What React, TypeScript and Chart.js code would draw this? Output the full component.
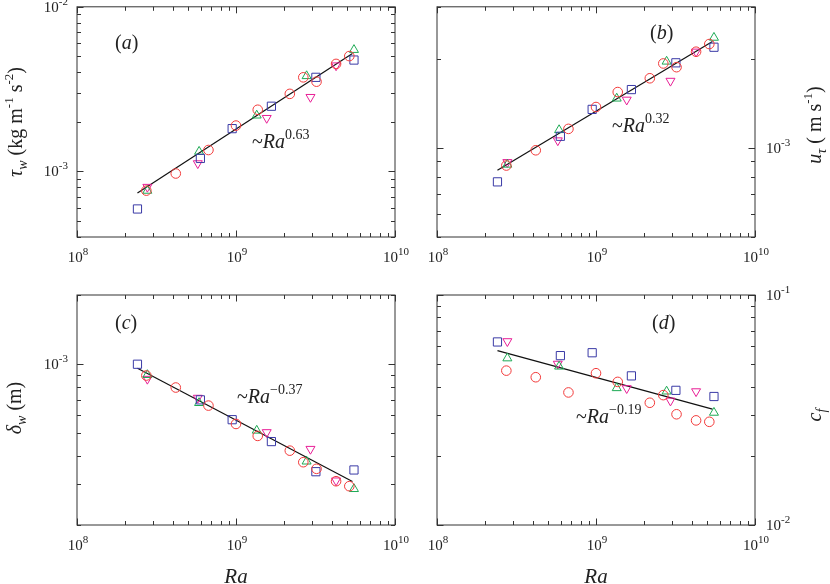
import { useEffect, useRef } from 'react';
import { Chart, registerables } from 'chart.js';

Chart.register(...registerables);

// Ra of each run family (shared by all four panels)
const raCircle = [2.73e8, 4.18e8, 6.71e8, 1.0e9, 1.37e9, 2.18e9, 2.65e9, 3.21e9, 4.26e9, 5.16e9];
const raSquare = [2.4e8, 5.97e8, 9.46e8, 1.67e9, 3.18e9, 5.52e9];
const raUp = [2.77e8, 5.86e8, 1.35e9, 2.78e9, 5.52e9];
const raDown = [2.77e8, 5.75e8, 1.56e9, 2.94e9, 4.26e9];
const raFit = [2.4e8, 5.4e9];

// (a) wall shear stress
const tauCircle = [7.65e-4, 9.72e-4, 1.35e-3, 1.9e-3, 2.37e-3, 2.96e-3, 3.73e-3, 3.51e-3, 4.5e-3, 5.02e-3];
const tauSquare = [5.92e-4, 1.2e-3, 1.82e-3, 2.49e-3, 3.73e-3, 4.75e-3];
const tauUp = [7.65e-4, 1.32e-3, 2.19e-3, 3.8e-3, 5.48e-3];
const tauDown = [8.05e-4, 1.12e-3, 2.11e-3, 2.83e-3, 4.4e-3];
const tauFit = [7.4e-4, 5.2e-3];

// (b) friction velocity
const utauCircle = [8.72e-4, 9.82e-4, 1.16e-3, 1.375e-3, 1.545e-3, 1.72e-3, 1.93e-3, 1.875e-3, 2.115e-3, 2.245e-3];
const utauSquare = [7.68e-4, 1.095e-3, 1.35e-3, 1.575e-3, 1.94e-3, 2.19e-3];
const utauUp = [8.79e-4, 1.15e-3, 1.47e-3, 1.96e-3, 2.36e-3];
const utauDown = [8.95e-4, 1.06e-3, 1.455e-3, 1.685e-3, 2.115e-3];
const utauFit = [8.4e-4, 2.29e-3];

// (c) viscous length
const deltaCircle = [8.93e-4, 7.92e-4, 6.61e-4, 5.5e-4, 4.88e-4, 4.21e-4, 3.75e-4, 3.51e-4, 3.1e-4, 2.95e-4];
const deltaSquare = [1.0e-3, 7.0e-4, 5.74e-4, 4.61e-4, 3.41e-4, 3.47e-4];
const deltaUp = [8.99e-4, 6.79e-4, 5.15e-4, 3.78e-4, 2.87e-4];
const deltaDown = [8.63e-4, 7.14e-4, 5.06e-4, 4.28e-4, 3.12e-4];
const deltaFit = [9.6e-4, 3.09e-4];

// (d) friction coefficient
const cfCircle = [0.0469, 0.0439, 0.0377, 0.0457, 0.0419, 0.034, 0.0367, 0.0303, 0.0285, 0.0281];
const cfSquare = [0.0625, 0.0545, 0.0561, 0.0445, 0.0385, 0.0362];
const cfUp = [0.0531, 0.0489, 0.0394, 0.0381, 0.0308];
const cfDown = [0.0629, 0.0502, 0.0393, 0.0347, 0.0381];
const cfFit = [0.0573, 0.0319];

const SERIF = '"Liberation Serif", "Times New Roman", serif';
const f = (size: number, italic = false) => `${italic ? 'italic ' : ''}${size}px ${SERIF}`;

type Seg = { t: string; f: string; dy?: number };

function drawRich(ctx: CanvasRenderingContext2D, segs: Seg[], x: number, y: number, align: 'left' | 'center' | 'right') {
  let total = 0;
  for (const s of segs) {
    ctx.font = s.f;
    total += ctx.measureText(s.t).width;
  }
  let cx = align === 'left' ? x : align === 'center' ? x - total / 2 : x - total;
  ctx.textAlign = 'left';
  ctx.textBaseline = 'alphabetic';
  for (const s of segs) {
    ctx.font = s.f;
    ctx.fillText(s.t, cx, y + (s.dy || 0));
    cx += ctx.measureText(s.t).width;
  }
}

const pow10 = (e: number): Seg[] => [
  { t: '10', f: f(15) },
  { t: String(e), f: f(11), dy: -7 },
];

const lawText = (exp: string): Seg[] => [
  { t: '~', f: f(20) },
  { t: 'Ra', f: f(20, true) },
  { t: exp, f: f(14), dy: -9 },
];

function logTicks(min: number, max: number) {
  const out: { v: number; major: boolean; e: number }[] = [];
  for (let e = Math.floor(Math.log10(min)); e <= Math.ceil(Math.log10(max)); e++) {
    for (let k = 1; k <= 9; k++) {
      const v = k * Math.pow(10, e);
      if (v >= min * 0.999 && v <= max * 1.001) out.push({ v, major: k === 1, e });
    }
  }
  return out;
}

interface PanelCfg {
  area: { left: number; top: number; right: number; bottom: number };
  yMin: number;
  yMax: number;
  ySide: 'left' | 'right';
  series: number[][];
  fit: number[];
  letter: string;
  letterAt: { x: number; y: number };
  law: string;
  lawAt: { x: number; y: number };
  yTitle: Seg[];
  yTitleAt: { x: number; y: number };
  xTitle: boolean;
}

const markers = [
  { xs: raCircle, style: 'circle', rot: 0, r: 4.8, color: '#f23a3a' },
  { xs: raSquare, style: 'rect', rot: 0, r: 5.8, color: '#3a3aa6' },
  { xs: raUp, style: 'triangle', rot: 0, r: 5.2, color: '#1eaa55' },
  { xs: raDown, style: 'triangle', rot: 180, r: 5.2, color: '#e81e96' },
];

const panels: PanelCfg[] = [
  {
    area: { left: 77, top: 6, right: 395, bottom: 237 },
    yMin: 4e-4, yMax: 1e-2, ySide: 'left',
    series: [tauCircle, tauSquare, tauUp, tauDown], fit: tauFit,
    letter: 'a', letterAt: { x: 115, y: 49 },
    law: '0.63', lawAt: { x: 252, y: 148 },
    yTitle: [
      { t: 'τ', f: f(20, true) }, { t: 'w', f: f(14, true), dy: 5 },
      { t: ' (kg m', f: f(20) }, { t: '-1', f: f(13), dy: -9 },
      { t: ' s', f: f(20) }, { t: '-2', f: f(13), dy: -9 }, { t: ')', f: f(20) },
    ],
    yTitleAt: { x: 16, y: 122 }, xTitle: false,
  },
  {
    area: { left: 437, top: 6, right: 755, bottom: 237 },
    yMin: 5e-4, yMax: 3e-3, ySide: 'right',
    series: [utauCircle, utauSquare, utauUp, utauDown], fit: utauFit,
    letter: 'b', letterAt: { x: 650, y: 39 },
    law: '0.32', lawAt: { x: 612, y: 132 },
    yTitle: [
      { t: 'u', f: f(20, true) }, { t: 'τ', f: f(14, true), dy: 5 },
      { t: ' ( m s', f: f(20) }, { t: '-1', f: f(13), dy: -9 }, { t: ')', f: f(20) },
    ],
    yTitleAt: { x: 815, y: 125 }, xTitle: false,
  },
  {
    area: { left: 77, top: 295, right: 395, bottom: 525 },
    yMin: 2e-4, yMax: 2e-3, ySide: 'left',
    series: [deltaCircle, deltaSquare, deltaUp, deltaDown], fit: deltaFit,
    letter: 'c', letterAt: { x: 115, y: 329 },
    law: '\u22120.37', lawAt: { x: 237, y: 403 },
    yTitle: [
      { t: 'δ', f: f(20, true) }, { t: 'w', f: f(14, true), dy: 5 }, { t: ' (m)', f: f(20) },
    ],
    yTitleAt: { x: 15, y: 408 }, xTitle: true,
  },
  {
    area: { left: 437, top: 295, right: 755, bottom: 525 },
    yMin: 1e-2, yMax: 1e-1, ySide: 'right',
    series: [cfCircle, cfSquare, cfUp, cfDown], fit: cfFit,
    letter: 'd', letterAt: { x: 652, y: 329 },
    law: '\u22120.19', lawAt: { x: 576, y: 423 },
    yTitle: [{ t: 'c', f: f(20, true) }, { t: 'f', f: f(14, true), dy: 5 }],
    yTitleAt: { x: 815, y: 415 }, xTitle: true,
  },
];

function Panel({ cfg }: { cfg: PanelCfg }) {
  const canvasRef = useRef<HTMLCanvasElement>(null);

  useEffect(() => {
    if (!canvasRef.current) return;
    const ctx = canvasRef.current.getContext('2d');
    if (!ctx) return;

    const deco = {
      id: 'deco',
      afterDraw(chart: Chart) {
        const c = chart.ctx;
        const { left, right, top, bottom } = chart.chartArea;
        const xs = chart.scales.x;
        const ys = chart.scales.y;
        c.save();
        c.strokeStyle = '#333';
        c.fillStyle = '#222';
        c.lineWidth = 1;
        c.strokeRect(left, top, right - left, bottom - top);

        c.beginPath();
        for (const t of logTicks(1e8, 1e10)) {
          const px = Math.round(xs.getPixelForValue(t.v)) + 0.5;
          const len = t.major ? 6.5 : 4;
          c.moveTo(px, bottom); c.lineTo(px, bottom - len);
          c.moveTo(px, top); c.lineTo(px, top + len);
        }
        for (const t of logTicks(cfg.yMin, cfg.yMax)) {
          const py = Math.round(ys.getPixelForValue(t.v)) + 0.5;
          const len = t.major ? 6.5 : 4;
          c.moveTo(left, py); c.lineTo(left + len, py);
          c.moveTo(right, py); c.lineTo(right - len, py);
        }
        c.stroke();

        for (const t of logTicks(1e8, 1e10)) {
          if (!t.major) continue;
          drawRich(c, pow10(t.e), xs.getPixelForValue(t.v) + 1, bottom + 25, 'center');
        }
        for (const t of logTicks(cfg.yMin, cfg.yMax)) {
          if (!t.major) continue;
          const py = ys.getPixelForValue(t.v) + 5;
          if (cfg.ySide === 'left') drawRich(c, pow10(t.e), left - 9, py, 'right');
          else drawRich(c, pow10(t.e), right + 11, py, 'left');
        }

        drawRich(c, [
          { t: '(', f: f(20) }, { t: cfg.letter, f: f(20, true) }, { t: ')', f: f(20) },
        ], cfg.letterAt.x, cfg.letterAt.y, 'left');
        drawRich(c, lawText(cfg.law), cfg.lawAt.x, cfg.lawAt.y, 'left');

        if (cfg.xTitle) {
          drawRich(c, [{ t: 'Ra', f: f(21, true) }], (left + right) / 2, bottom + 58, 'center');
        }

        c.translate(cfg.yTitleAt.x, cfg.yTitleAt.y);
        c.rotate(-Math.PI / 2);
        drawRich(c, cfg.yTitle, 0, 6, 'center');
        c.restore();
      },
    };

    const datasets: any[] = markers.map((m, i) => ({
      data: m.xs.map((x, j) => ({ x, y: cfg.series[i][j] })),
      pointStyle: m.style,
      rotation: m.rot,
      pointRadius: m.r,
      pointBorderWidth: 1,
      borderColor: m.color,
      backgroundColor: 'rgba(0,0,0,0)',
      showLine: false,
      clip: false,
    }));
    datasets.push({
      type: 'line',
      data: raFit.map((x, j) => ({ x, y: cfg.fit[j] })),
      showLine: true,
      pointRadius: 0,
      borderColor: '#111',
      borderWidth: 1.2,
      fill: false,
    });

    const chart = new Chart(ctx, {
      type: 'scatter',
      data: { datasets },
      options: {
        responsive: false,
        animation: false,
        events: [],
        layout: {
          padding: {
            left: cfg.area.left,
            top: cfg.area.top,
            right: 830 - cfg.area.right,
            bottom: 584 - cfg.area.bottom,
          },
        },
        plugins: {
          legend: { display: false },
          tooltip: { enabled: false },
        },
        scales: {
          x: { type: 'logarithmic', min: 1e8, max: 1e10, display: false },
          y: { type: 'logarithmic', min: cfg.yMin, max: cfg.yMax, display: false },
        },
      },
      plugins: [deco],
    });

    return () => chart.destroy();
  }, [cfg]);

  return (
    <canvas
      ref={canvasRef}
      width={830}
      height={584}
      style={{ position: 'absolute', left: 0, top: 0 }}
    />
  );
}

export default function App() {
  return (
    <div style={{ position: 'absolute', left: 0, top: 0, width: 830, height: 584, background: '#fff' }}>
      {panels.map((p, i) => (
        <Panel key={i} cfg={p} />
      ))}
    </div>
  );
}
